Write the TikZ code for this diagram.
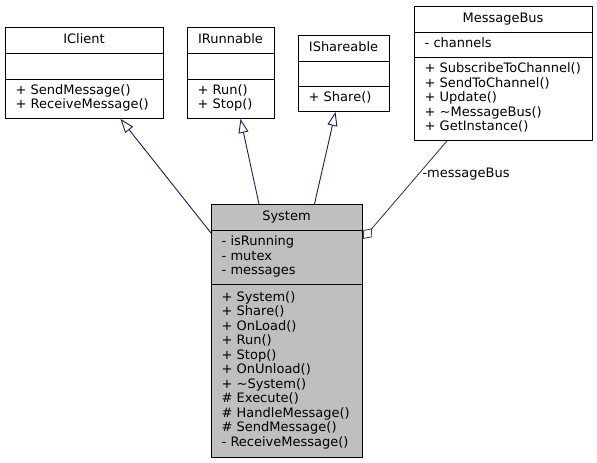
\documentclass[tikz,border=0pt]{standalone}
\usepackage{fontspec}
\usetikzlibrary{arrows.meta}
\newfontfamily\umlfont{DejaVu Sans}
\definecolor{inhcol}{HTML}{191970}
\definecolor{aggcol}{HTML}{404040}
\definecolor{selfill}{HTML}{BFBFBF}
\newcommand\umllines[4]{% prefix, x, first baseline, list
  \foreach \t [count=\i from 0] in {#4} \node[txt] (#1-\i) at (#2,#3+14.5*\i) {\t};}
\begin{document}
\begin{tikzpicture}[x=1bp,y=-1bp,
  cls/.style={draw=black, line width=0.9bp, rectangle, inner sep=0pt, anchor=north west, fill=white},
  sep/.style={draw=black, line width=0.9bp},
  txt/.style={font=\umlfont\fontsize{13bp}{14.5bp}\selectfont, inner sep=0pt, anchor=base west},
  ttl/.style={font=\umlfont\fontsize{13bp}{14.5bp}\selectfont, inner sep=0pt, anchor=base},
  inh/.style={draw=inhcol, line width=0.9bp, -{Triangle[open,length=14bp,width=10bp]}},
  agg/.style={draw=aggcol, line width=0.9bp, {Diamond[open,length=14bp,width=11bp]}-}]
\useasboundingbox (0,0) rectangle (597,463);

% IClient
\node[cls, minimum width=158bp, minimum height=91bp] (IClient) at (5,27) {};
\draw[sep] ([yshift=-26bp]IClient.north west) -- ([yshift=-26bp]IClient.north east);
\draw[sep] ([yshift=-52bp]IClient.north west) -- ([yshift=-52bp]IClient.north east);
\node[ttl] (IClient-title) at (84,43.5) {IClient};
\umllines{IClient-m}{15.5}{94.5}{+ SendMessage(), + ReceiveMessage()}

% IRunnable
\node[cls, minimum width=87bp, minimum height=91bp] (IRunnable) at (187,27) {};
\draw[sep] ([yshift=-26bp]IRunnable.north west) -- ([yshift=-26bp]IRunnable.north east);
\draw[sep] ([yshift=-52bp]IRunnable.north west) -- ([yshift=-52bp]IRunnable.north east);
\node[ttl] (IRunnable-title) at (230.5,43.5) {IRunnable};
\umllines{IRunnable-m}{197.5}{94.5}{+ Run(), + Stop()}

% IShareable
\node[cls, minimum width=91bp, minimum height=76bp] (IShareable) at (298,35) {};
\draw[sep] ([yshift=-26bp]IShareable.north west) -- ([yshift=-26bp]IShareable.north east);
\draw[sep] ([yshift=-51bp]IShareable.north west) -- ([yshift=-51bp]IShareable.north east);
\node[ttl] (IShareable-title) at (343.5,51.25) {IShareable};
\umllines{IShareable-m}{308.5}{101.75}{+ Share()}

% MessageBus
\node[cls, minimum width=178bp, minimum height=134bp] (MessageBus) at (414,6) {};
\draw[sep] ([yshift=-26bp]MessageBus.north west) -- ([yshift=-26bp]MessageBus.north east);
\draw[sep] ([yshift=-51bp]MessageBus.north west) -- ([yshift=-51bp]MessageBus.north east);
\node[ttl] (MessageBus-title) at (503,22.25) {MessageBus};
\umllines{MessageBus-a}{424.5}{47.75}{- channels}
\umllines{MessageBus-m}{424.5}{72.75}{+ SubscribeToChannel(), + SendToChannel(), + Update(), + \textasciitilde MessageBus(), + GetInstance()}

% System
\node[cls, fill=selfill, minimum width=151bp, minimum height=253bp] (System) at (211,204) {};
\draw[sep] ([yshift=-26bp]System.north west) -- ([yshift=-26bp]System.north east);
\draw[sep] ([yshift=-80bp]System.north west) -- ([yshift=-80bp]System.north east);
\node[ttl] (System-title) at (286.5,220.5) {System};
\umllines{System-a}{221.5}{245.75}{- isRunning, - mutex, - messages}
\umllines{System-m}{221.5}{301}{+ System(), + Share(), + OnLoad(), + Run(), + Stop(), + OnUnload(), + \textasciitilde System(), \# Execute(), \# HandleMessage(), \# SendMessage(), - ReceiveMessage()}

% connectors
\draw[inh] ([yshift=-29bp]System.north west) -- ([xshift=115.5bp]IClient.south west);
\draw[inh] ([xshift=48bp]System.north west) -- ([xshift=53.5bp]IRunnable.south west);
\draw[inh] ([xshift=103.5bp]System.north west) -- ([xshift=37.5bp]IShareable.south west);
\draw[agg] ([yshift=-35bp]System.north east) -- ([xshift=33bp]MessageBus.south west);
\node[txt] (agg-label) at (422.3,177.5) {-messageBus};
\end{tikzpicture}
\end{document}
